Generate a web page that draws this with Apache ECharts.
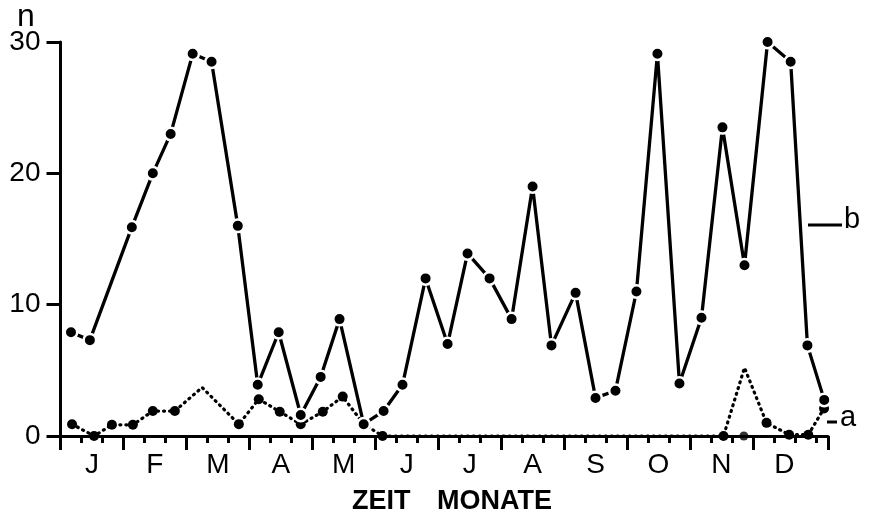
<!DOCTYPE html>
<html>
<head>
<meta charset="utf-8">
<script src="https://cdn.jsdelivr.net/npm/echarts@6/dist/echarts.min.js"></script>
<style>
  html, body { margin: 0; padding: 0; background: #fff; }
  #chart { width: 869px; height: 516px; }
</style>
</head>
<body>
<div id="chart"></div>
<script>
// Months and tick positions (x measured in 10-day periods from 1 January)
const monthLabels = ['J', 'F', 'M', 'A', 'M', 'J', 'J', 'A', 'S', 'O', 'N', 'D'];
const monthCenters = [1.5, 4.5, 7.5, 10.5, 13.5, 16.5, 19.5, 22.5, 25.5, 28.5, 31.5, 34.5];
const monthTicks = [0, 3, 6, 9, 12, 15, 18, 21, 24, 27, 30, 33, 36.58];
const decadeTicks = [1, 2, 4, 5, 7, 8, 10, 11, 13, 14, 16, 17, 19, 20, 22, 23, 25, 26, 28, 29, 31, 32, 34, 35, 36];
const yTickValues = [0, 10, 20, 30];

// Series b (solid line)
const bX = [0.5, 1.4, 3.4, 4.4, 5.25, 6.3, 7.2, 8.45, 9.4, 10.4, 11.45, 12.4, 13.3, 14.45, 15.4, 16.3, 17.4, 18.45,
            19.4, 20.45, 21.5, 22.5, 23.4, 24.55, 25.5, 26.45, 27.45, 28.45, 29.5, 30.55, 31.55, 32.6, 33.7, 34.8, 35.6, 36.4];
const bY = [7.9, 7.3, 15.9, 20.0, 23.0, 29.1, 28.5, 16.0, 3.9, 7.9, 1.6, 4.5, 8.9, 0.9, 1.9, 3.9, 12.0, 7.0,
            13.9, 12.0, 8.9, 19.0, 6.9, 10.9, 2.9, 3.45, 11.0, 29.1, 4.0, 9.0, 23.5, 13.0, 30.0, 28.5, 6.9, 2.75];

// Series a (dotted line); aDot = 1 where a point marker is drawn
const aX = [0.55, 1.6, 2.45, 3.45, 4.4, 5.45, 6.75, 8.5, 9.45, 10.45, 11.45, 12.5, 13.45, 14.45, 15.35,
            31.6, 32.6, 33.65, 34.73, 35.64, 36.39];
const aY = [0.9, 0.0, 0.85, 0.85, 1.9, 1.9, 3.7, 0.9, 2.8, 1.85, 0.9, 1.85, 3.0, 0.9, 0.0,
            0.0, 5.2, 1.0, 0.1, 0.1, 2.1];
const aDot = [1, 1, 1, 1, 1, 1, 0, 1, 1, 1, 1, 1, 1, 1, 1,
              1, 0, 1, 1, 1, 1];
// isolated point on the axis in November
const extraX = [32.57];
const extraY = [0.0];

const FONT = 'Liberation Sans, Arial, Helvetica, sans-serif';

const bData = bX.map((x, i) => [x, bY[i]]);
const aData = aX.map((x, i) => aDot[i] ? { value: [x, aY[i]] } : { value: [x, aY[i]], symbol: 'none' });
const extraData = extraX.map((x, i) => [x, extraY[i]]);

const chart = echarts.init(document.getElementById('chart'), null, { renderer: 'canvas' });
chart.setOption({
  animation: false,
  backgroundColor: '#fff',
  grid: { left: 60.5, right: 41, top: 42, bottom: 80, containLabel: false },
  xAxis: [
    {
      type: 'value', min: 0, max: 36.58,
      axisLine: { show: true, onZero: false, lineStyle: { color: '#000', width: 3 } },
      axisTick: { show: true, customValues: monthTicks, length: 14, lineStyle: { color: '#000', width: 3 } },
      axisLabel: {
        show: true, customValues: monthCenters, margin: 15,
        color: '#000', fontFamily: FONT, fontSize: 28,
        formatter: function (v) { return monthLabels[Math.round((v - 1.5) / 3)]; }
      },
      splitLine: { show: false }
    },
    {
      type: 'value', min: 0, max: 36.58, position: 'bottom',
      axisLine: { show: false },
      axisTick: { show: true, customValues: decadeTicks, length: 7, lineStyle: { color: '#000', width: 3 } },
      axisLabel: { show: false },
      splitLine: { show: false }
    }
  ],
  yAxis: {
    type: 'value', min: 0, max: 30, interval: 10,
    axisLine: { show: true, onZero: false, lineStyle: { color: '#000', width: 3 } },
    axisTick: { show: true, length: 14, lineStyle: { color: '#000', width: 3 } },
    axisLabel: { color: '#000', fontFamily: FONT, fontSize: 28, margin: 20,
      formatter: function (v) { return yTickValues.indexOf(v) >= 0 ? String(v) : ''; } },
    splitLine: { show: false }
  },
  series: [
    {
      name: 'a', type: 'line', xAxisIndex: 0, data: aData, z: 3,
      symbol: 'circle', symbolSize: 10, showSymbol: true,
      lineStyle: { color: '#000', width: 3.2, type: [1, 5], cap: 'round' },
      itemStyle: { color: '#000', borderWidth: 0 },
      emphasis: { disabled: true }
    },
    {
      name: 'extra', type: 'scatter', xAxisIndex: 0, data: extraData, z: 3,
      symbol: 'circle', symbolSize: 9,
      itemStyle: { color: '#000' },
      emphasis: { disabled: true }
    },
    {
      name: 'b', type: 'line', xAxisIndex: 0, data: bData, z: 4,
      symbol: 'circle', symbolSize: 12.5, showSymbol: true,
      lineStyle: { color: '#000', width: 3.3 },
      itemStyle: { color: '#000', borderColor: '#fff', borderWidth: 2.5 },
      emphasis: { disabled: true }
    }
  ],
  graphic: [
    { type: 'text', left: 17, top: 1, style: { text: 'n', fontFamily: FONT, fontSize: 32, fill: '#000' } },
    { type: 'line', shape: { x1: 808, y1: 225, x2: 842, y2: 225 }, style: { stroke: '#000', lineWidth: 3 } },
    { type: 'text', left: 844, top: 205, style: { text: 'b', fontFamily: FONT, fontSize: 29, fill: '#000' } },
    { type: 'line', shape: { x1: 827, y1: 422, x2: 837, y2: 422 }, style: { stroke: '#000', lineWidth: 3 } },
    { type: 'text', left: 840, top: 403, style: { text: 'a', fontFamily: FONT, fontSize: 29, fill: '#000' } },
    { type: 'text', left: 352, top: 488, style: { text: 'ZEIT', fontFamily: FONT, fontSize: 27, fontWeight: 'bold', fill: '#000' } },
    { type: 'text', left: 437, top: 488, style: { text: 'MONATE', fontFamily: FONT, fontSize: 27, fontWeight: 'bold', fill: '#000' } }
  ]
});
</script>
</body>
</html>
